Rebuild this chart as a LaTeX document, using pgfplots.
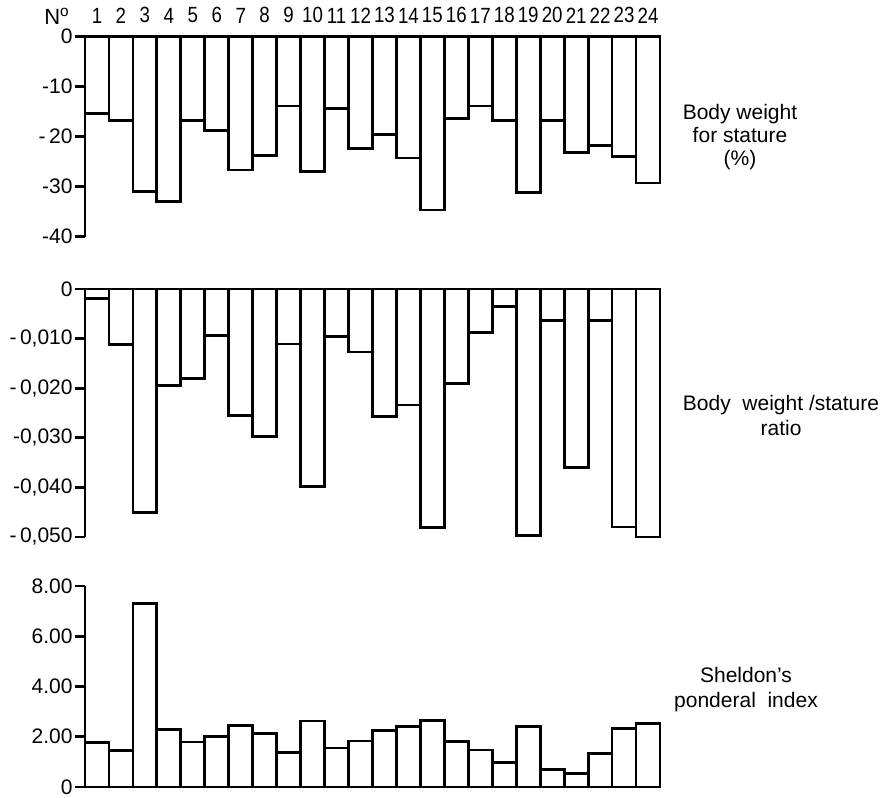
\documentclass[border=0pt]{standalone}
\usepackage{pgfplots}
\pgfplotsset{compat=1.18}
\usepackage{fontspec}
\setmainfont{Liberation Sans}
\newfontfamily\narrowfont[FakeStretch=0.85]{Liberation Sans}

\pgfplotsset{
  panel/.style={
    scale only axis, width=287.5pt,
    xmin=0.5, xmax=24.5, clip=false,
    axis y line=left, y axis line style={-, line width=1.4pt},
    tick align=outside, major tick length=5pt,
    ytick style={line width=1.4pt, black},
    yticklabel style={font=\fontsize{10.5}{12}\selectfont, inner xsep=1pt},
    scaled y ticks=false,
  },
  bars/.style={ybar, bar width=1, bar shift=0pt, draw=black, fill=white, line width=1.4pt},
}

\begin{document}
\begin{tikzpicture}
\path[use as bounding box] (0,0) rectangle (443.5pt,-398.5pt);

% Panel 1
\begin{axis}[panel, at={(42.5pt,-18.25pt)}, anchor=north west,
  height=100pt, ymin=-40, ymax=0,
  ytick={0,-10,-20,-30,-40}, yticklabels={0,-10,{-\,20},-30,-40},
  axis x line=top, x axis line style={draw=none},
  xtick={1,...,24}, xtick style={draw=none},
  xticklabel style={font=\narrowfont\fontsize{11}{12}\selectfont, inner sep=0pt, yshift=4pt},
  xticklabels={1,2,3,4,5,6,7,8,9,10,11,12,13,14,15,16,17,18,19,20,21,22,23,24},
]
\addplot[bars] coordinates {
(1,-15.4) (2,-16.8) (3,-31.0) (4,-33.0) (5,-16.8) (6,-18.8) (7,-26.7) (8,-23.8)
(9,-13.9) (10,-27.0) (11,-14.4) (12,-22.4) (13,-19.6) (14,-24.3) (15,-34.7) (16,-16.4)
(17,-13.9) (18,-16.8) (19,-31.2) (20,-16.8) (21,-23.2) (22,-21.8) (23,-24.0) (24,-29.3)};
\end{axis}

% Panel 2
\begin{axis}[panel, at={(42.5pt,-144.5pt)}, anchor=north west,
  height=124pt, ymin=-0.05, ymax=0,
  ytick={0,-0.01,-0.02,-0.03,-0.04,-0.05},
  yticklabels={0,{-\,0,010},{-\,0,020},{-0,030},{-0,040},{-\,0,050}},
  axis x line=none,
]
\addplot[bars] coordinates {
(1,-0.0019) (2,-0.0112) (3,-0.0450) (4,-0.0194) (5,-0.0180) (6,-0.0093) (7,-0.0255) (8,-0.0297)
(9,-0.0111) (10,-0.0398) (11,-0.0095) (12,-0.0127) (13,-0.0257) (14,-0.0234) (15,-0.0481) (16,-0.0190)
(17,-0.0087) (18,-0.0036) (19,-0.0497) (20,-0.0063) (21,-0.0360) (22,-0.0063) (23,-0.0480) (24,-0.0500)};
\end{axis}

% Panel 3
\begin{axis}[panel, at={(42.5pt,-293pt)}, anchor=north west,
  height=100.5pt, ymin=0, ymax=8,
  ytick={0,2,4,6,8}, yticklabels={0,2.00,4.00,6.00,8.00},
  axis x line=none,
]
\addplot[bars] coordinates {
(1,1.77) (2,1.44) (3,7.30) (4,2.28) (5,1.79) (6,2.01) (7,2.46) (8,2.13)
(9,1.38) (10,2.63) (11,1.55) (12,1.83) (13,2.25) (14,2.41) (15,2.66) (16,1.80)
(17,1.47) (18,0.99) (19,2.42) (20,0.70) (21,0.54) (22,1.34) (23,2.34) (24,2.53)};
\end{axis}

\node[font=\fontsize{11}{12}\selectfont] at (28.5pt,-8pt) {N\textsuperscript{o}};
\node[align=center, font=\fontsize{10.5}{11.5}\selectfont] at (370pt,-68.5pt) {Body weight\\for stature\\(\%)};
\node[align=center, font=\fontsize{10.5}{12.5}\selectfont] at (390.5pt,-207.5pt) {Body\ \ weight /stature\\ratio};
\node[align=center, font=\fontsize{10.5}{12.5}\selectfont] at (373pt,-345pt) {Sheldon's\\ponderal\ \ index};
\end{tikzpicture}
\end{document}
